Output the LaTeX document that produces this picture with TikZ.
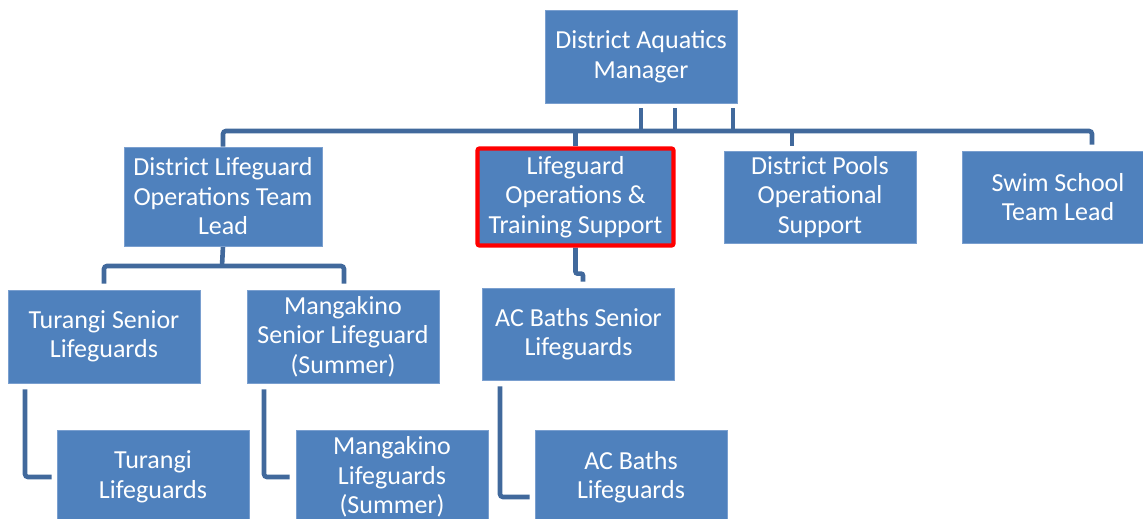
\documentclass[tikz,border=0pt]{standalone}
\usepackage{fontspec}
\setmainfont{Carlito}
\usetikzlibrary{backgrounds,calc}
\definecolor{boxblue}{HTML}{4F81BD}
\definecolor{boxedge}{HTML}{7A9FCF}
\definecolor{linkblue}{HTML}{41699C}
\begin{document}
\begin{tikzpicture}[x=1pt,y=-1pt,
 orgbox/.style={fill=boxblue, draw=boxedge, line width=0.6pt, text=white,
   font=\fontsize{26}{29.5}\selectfont, align=center, inner sep=0pt,
   minimum width=192pt, minimum height=93pt},
 conn/.style={draw=linkblue, line width=4.6pt, rounded corners=3pt}]
\path[use as bounding box, clip] (0,0) rectangle (1143,519);
\node[orgbox] (mgr) at (641,56.5) {District Aquatics\\Manager};
\node[orgbox, minimum width=198pt, minimum height=99pt] (dlotl) at (223,196.5) {District Lifeguard\\Operations Team\\Lead};
\node[orgbox, draw=red, line width=4.2pt, rounded corners=2pt, minimum width=196pt, minimum height=97pt] (lots) at (575.5,197) {Lifeguard\\Operations \&\\Training Support};
\node[orgbox, minimum height=92pt] (dpos) at (820,197) {District Pools\\Operational\\Support};
\node[orgbox, minimum height=92pt] (sstl) at (1058,197) {Swim School\\Team Lead};
\node[orgbox] (tsl) at (104,336.5) {Turangi Senior\\Lifeguards};
\node[orgbox] (msl) at (343,336.5) {Mangakino\\Senior Lifeguard\\(Summer)};
\node[orgbox, minimum height=92pt] (acsl) at (578.5,334) {AC Baths Senior\\Lifeguards};
\node[orgbox] (tl) at (153,477) {Turangi\\Lifeguards};
\node[orgbox] (ml) at (392,477) {Mangakino\\Lifeguards\\(Summer)};
\node[orgbox] (acl) at (631,477) {AC Baths\\Lifeguards};
\begin{pgfonlayer}{background}
\fill[white] (0,0) rectangle (1143,519);
\coordinate (bus) at (641,131);
\coordinate (sub) at (222,266);
\draw[conn] (dlotl.north) |- (bus) -| ([xshift=34pt,yshift=6pt]sstl.north);
\draw[conn] ([yshift=-5pt]mgr.south) -- (mgr.south |- bus);
\draw[conn] ([xshift=34pt,yshift=-5pt]mgr.south) -- ([xshift=34pt]mgr.south |- bus);
\draw[conn] ([xshift=92pt,yshift=-5pt]mgr.south) -- ([xshift=92pt]mgr.south |- bus);
\draw[conn] (bus -| lots.north) -- (lots.north);
\draw[conn] ([xshift=-28pt]bus -| dpos.north) -- ([xshift=-28pt,yshift=5pt]dpos.north);
\draw[conn] (dlotl.south) -- (sub);
\draw[conn] ([yshift=6pt]tsl.north) |- (sub) -| ([xshift=1pt,yshift=6pt]msl.north);
\draw[conn, rounded corners=2pt] (lots.south) -- ++(0,26) -| ([xshift=4.5pt,yshift=6pt]acsl.north);
\draw[conn] ([xshift=-79pt,yshift=-6pt]tsl.south) |- ([xshift=-5pt]tl.west);
\draw[conn] ([xshift=-79pt,yshift=-6pt]msl.south) |- ([xshift=-6pt]ml.west);
\draw[conn] ([xshift=-78.5pt,yshift=-6pt]acsl.south) |- ([xshift=-5pt,yshift=-20pt]acl.west);
\end{pgfonlayer}
\end{tikzpicture}
\end{document}
